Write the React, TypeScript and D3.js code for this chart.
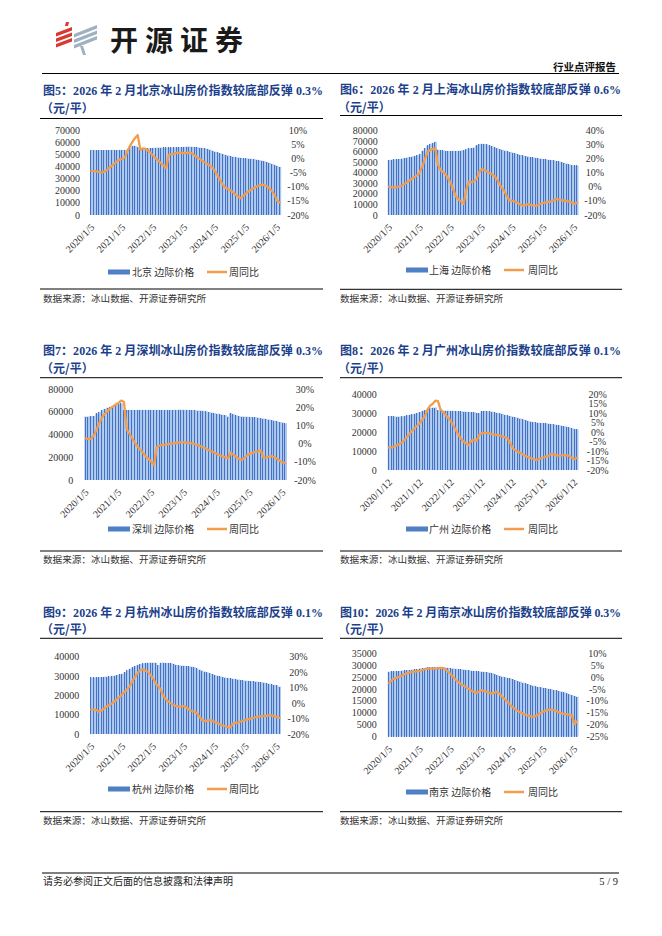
import { useEffect, useRef } from "react";
import * as d3 from "d3";

// monthly categories, 2020-01 .. 2026-02
const MONTHS = d3.timeMonths(new Date(2020, 0, 1), new Date(2026, 2, 1));
const YEAR_TICKS = [0, 12, 24, 36, 48, 60, 72];
const TICKS_5 = ["2020/1/5", "2021/1/5", "2022/1/5", "2023/1/5", "2024/1/5", "2025/1/5", "2026/1/5"];
const TICKS_12 = ["2020/1/12", "2021/1/12", "2022/1/12", "2023/1/12", "2024/1/12", "2025/1/12", "2026/1/12"];

const BJ_PRICE = [
  53500, 53500, 53500, 53500, 53500, 53500, 53500, 53500, 53500, 53500,
  53500, 53500, 53500, 53500, 54000, 56000, 57000, 57000, 56000, 55000,
  54500, 54800, 55000, 55200, 55300, 55400, 55500, 55500, 55600, 55600,
  55700, 55700, 55800, 55800, 55900, 56000, 56100, 56300, 56300, 56200,
  56000, 55800, 55500, 55200, 55000, 54400, 53800, 53000, 52200, 51500,
  50800, 50200, 49500, 49000, 48500, 48000, 47600, 47300, 47000, 46800,
  46600, 46500, 46300, 46000, 45600, 45200, 44800, 44300, 43700, 43000,
  42200, 41400, 40500, 39600,
];
const BJ_YOY = [
  -4.4, -4.5, -4.6, -4.8, -5.0, -4.7, -4.2, -3.4, -2.6, -1.8,
  -1.1, -0.4, -0.2, 0.2, 2.6, 4.4, 5.9, 7.2, 8.2, 3.0,
  3.5, 3.3, 2.7, 1.9, 0.9, 0.0, -0.8, -1.8, -2.6, -3.5,
  1.2, 1.4, 1.6, 1.9, 2.0, 1.9, 1.8, 1.9, 2.0, 1.8,
  1.0, 0.4, -0.2, -0.9, -1.5, -2.0, -2.6, -3.4, -4.6, -6.2,
  -7.8, -9.4, -10.4, -10.9, -11.3, -12.0, -12.9, -13.6, -14.1, -13.2,
  -12.4, -11.6, -11.0, -10.5, -10.0, -9.6, -9.4, -9.4, -9.8, -10.6,
  -11.6, -12.9, -15.0, -15.6,
];

const SH_PRICE = [
  52200, 52500, 52800, 53000, 53300, 53500, 54000, 54500, 55000, 55500,
  56000, 56800, 58000, 61000, 63500, 66000, 67500, 68500, 69500, 62000,
  61500, 61300, 61000, 60800, 60800, 60800, 60800, 61000, 61200, 61500,
  62500, 63300, 63600, 64000, 66000, 67400, 67600, 67500, 67000, 66200,
  65300, 64300, 63300, 62600, 61800, 61100, 60500, 59800, 59200, 58500,
  57700, 57000, 56500, 56000, 55500, 55000, 54600, 54200, 53800, 53500,
  53200, 52800, 52400, 52200, 51800, 51300, 50800, 50300, 49600, 48800,
  48000, 47300, 47000, 47000,
];
const SH_YOY = [
  0.2, -0.2, -0.5, -0.2, 0.3, 0.8, 2.0, 3.3, 4.5, 6.0,
  7.2, 8.3, 10.5, 15.0, 20.0, 25.0, 26.3, 27.0, 27.5, 16.0,
  12.0, 10.5, 9.0, 6.0, 2.8, -2.0, -6.9, -9.0, -10.4, -12.1,
  -2.1, 3.8, 3.3, 4.0, 5.5, 10.5, 12.6, 12.0, 11.0, 10.0,
  9.0, 7.5, 5.5, 1.5, -1.0, -3.8, -7.5, -9.8, -10.0, -10.4,
  -11.5, -12.5, -13.5, -13.0, -12.3, -12.8, -13.3, -13.5, -12.8, -12.0,
  -11.3, -11.1, -10.6, -10.4, -9.5, -8.5, -9.0, -9.5, -9.8, -10.2,
  -10.4, -11.2, -12.1, -11.1,
];

const SZ_PRICE = [
  55900, 56000, 56300, 56500, 58800, 60000, 61800, 62800, 63800, 64500,
  65200, 66200, 67000, 67600, 62000, 61800, 61800, 61800, 61800, 61800,
  61800, 61800, 61800, 61800, 61800, 61800, 61800, 61800, 61800, 61800,
  61800, 61800, 61900, 61900, 62000, 62000, 61900, 61800, 61800, 61700,
  61500, 61300, 61200, 61000, 60500, 60000, 59500, 59000, 58500, 58000,
  57500, 57200, 56000, 58800, 58000, 57000, 56500, 56000, 55900, 55800,
  55700, 55500, 55300, 55000, 54500, 54200, 53800, 53300, 52900, 52400,
  51800, 51200, 50700, 50000,
];
const SZ_YOY = [
  2.9, 2.6, 2.8, 4.5, 8.0, 11.5, 14.5, 16.5, 18.0, 19.5,
  20.6, 21.6, 22.5, 23.8, 23.0, 8.0, 5.5, 3.0, 0.5, -1.5,
  -3.5, -5.0, -7.0, -8.5, -10.0, -11.8, -1.8, -1.0, -0.7, -0.5,
  -0.3, 0.0, 0.2, 0.4, 0.6, 0.7, 0.8, 0.6, 0.4, 0.2,
  -0.3, -0.8, -1.3, -2.0, -2.8, -3.5, -4.2, -5.0, -5.7, -6.4,
  -7.0, -7.5, -8.1, -4.8, -6.0, -7.2, -8.3, -9.0, -7.8, -6.6,
  -5.5, -5.0, -4.5, -4.2, -3.6, -7.7, -7.7, -7.2, -6.8, -7.5,
  -8.3, -9.5, -10.3, -10.8,
];

const GZ_PRICE = [
  28500, 28400, 28300, 28200, 28200, 28300, 28600, 28900, 29200, 29500,
  29800, 30200, 30600, 31200, 31700, 32300, 32800, 33000, 33000, 31700,
  31500, 31400, 31400, 31300, 31300, 31200, 31200, 31100, 31000, 30900,
  30800, 30700, 30600, 30500, 30200, 30000, 31200, 31200, 31100, 31000,
  30800, 30500, 30200, 29900, 29600, 29200, 28800, 28500, 28200, 27900,
  27600, 27200, 26800, 26400, 26000, 25600, 25300, 25100, 25000, 24900,
  24800, 24700, 24500, 24300, 24100, 23900, 23700, 23400, 23200, 22900,
  22500, 22100, 21700, 21500,
];
const GZ_YOY = [
  -8.2, -8.0, -7.7, -7.0, -6.2, -5.5, -4.2, -2.5, -1.0, 0.8,
  2.2, 3.5, 4.8, 6.8, 8.5, 12.0, 14.0, 15.0, 16.6, 16.4,
  12.0, 10.6, 9.0, 7.6, 5.8, 3.5, 1.0, -1.5, -3.5, -5.0,
  -6.0, -6.8, -4.5, -4.2, -4.7, -1.5, -0.6, -0.4, -0.3, -0.6,
  -1.0, -1.3, -1.5, -1.8, -2.2, -2.6, -3.3, -5.5, -8.5, -9.5,
  -10.3, -11.0, -11.8, -12.6, -13.2, -13.6, -14.2, -14.7, -14.4, -13.8,
  -13.4, -12.9, -12.5, -11.5, -11.8, -12.2, -12.4, -12.3, -12.1, -12.3,
  -12.6, -13.5, -14.2, -13.5,
];

const HZ_PRICE = [
  29300, 29300, 29300, 29400, 29500, 29600, 29700, 29800, 30000, 30200,
  30500, 30900, 31200, 32000, 33000, 33800, 34500, 35200, 35800, 36200,
  36500, 36800, 36900, 36900, 36900, 36900, 35700, 36900, 36900, 36800,
  36700, 36600, 36300, 35700, 35500, 35400, 35300, 35200, 35000, 34800,
  34500, 34000, 33300, 32800, 32300, 31900, 31500, 31000, 30500, 30100,
  29800, 29500, 29200, 29000, 28800, 28600, 28400, 28200, 28000, 27700,
  27600, 27500, 27400, 27300, 27100, 27000, 26800, 26600, 26300, 26000,
  25700, 25400, 25200, 24500,
];
const HZ_YOY = [
  -4.1, -4.2, -4.5, -5.6, -4.8, -3.4, -2.2, -1.3, -0.2, 1.0,
  2.5, 4.0, 5.5, 7.3, 9.0, 11.0, 14.5, 17.0, 19.5, 21.3,
  21.8, 21.0, 20.3, 18.0, 16.0, 12.5, 11.0, 8.5, 4.5, 2.5,
  0.8, -0.2, -1.2, -2.0, -2.4, -2.2, -1.9, -2.8, -4.5, -5.2,
  -5.6, -6.5, -9.0, -11.0, -11.5, -11.6, -11.0, -11.5, -12.3, -13.1,
  -13.8, -14.5, -15.0, -15.5, -15.7, -13.1, -12.8, -12.5, -12.0, -11.4,
  -10.9, -10.4, -9.9, -9.5, -9.0, -8.7, -8.5, -8.4, -8.2, -8.0,
  -8.0, -8.6, -9.1, -9.5,
];

const NJ_PRICE = [
  27300, 27400, 27500, 27500, 27600, 27700, 27800, 27900, 28000, 28100,
  28300, 28400, 28600, 28700, 28900, 29100, 29100, 29100, 29100, 29100,
  29100, 29100, 29000, 28900, 28700, 28600, 28500, 28400, 28300, 28200,
  28000, 27900, 27700, 27600, 27500, 27400, 27300, 27200, 27100, 26900,
  26700, 26300, 25900, 25500, 25200, 24900, 24700, 24500, 24200, 23800,
  23400, 23100, 22700, 22400, 22100, 21700, 21400, 21100, 20900, 20700,
  20500, 20300, 20100, 19900, 19600, 19400, 19200, 18900, 18600, 18200,
  17800, 17500, 17100, 16800,
];
const NJ_YOY = [
  -2.4, -1.5, -0.6, -0.2, 0.1, 0.6, 1.2, 1.6, 2.0, 2.2,
  2.3, 2.4, 2.5, 3.0, 3.4, 3.6, 3.6, 3.6, 3.6, 3.7,
  3.9, 3.8, 3.2, 2.2, 1.2, 0.0, -1.2, -2.2, -3.0, -3.6,
  -4.3, -5.0, -5.7, -6.2, -6.6, -6.0, -5.5, -5.8, -6.2, -6.6,
  -6.9, -6.5, -6.2, -7.0, -8.3, -9.3, -10.4, -11.5, -12.6, -13.4,
  -14.2, -14.8, -15.3, -15.7, -16.2, -16.5, -16.7, -16.3, -15.6, -15.0,
  -14.4, -13.9, -13.7, -13.6, -13.9, -14.2, -14.8, -15.3, -15.4, -15.5,
  -15.8, -16.0, -19.6, -18.5,
];

const SOURCE = "数据来源：冰山数据、开源证券研究所";
const LINE_LABEL = "周同比";

const SERIF = "'Liberation Serif', 'Times New Roman', serif";
const CJK = "'Noto Sans CJK SC', sans-serif";
const MIX = "'Liberation Serif', 'Noto Sans CJK SC', serif";

const COLORS = {
  bar: "#4472C4",
  barLight: "#AAC6EC",
  swatch: "#4F7FC4",
  line: "#F29C4C",
  title: "#1B3F8B",
  text: "#333333",
  rule: "#000000",
};

type Col = {
  textX: number;
  ruleX0: number;
  ruleX1: number;
  titleW: number;
  legBar: number;
  legBarText: number;
  legLine: number;
  legLineText: number;
};

const LEFT_COL: Col = { textX: 43, ruleX0: 40, ruleX1: 323, titleW: 280, legBar: 108, legBarText: 132, legLine: 207, legLineText: 229 };
const RIGHT_COL: Col = { textX: 340, ruleX0: 340, ruleX1: 622, titleW: 281, legBar: 406, legBarText: 429, legLine: 504, legLineText: 528 };

type Panel = {
  col: Col;
  title: string;
  legend: string;
  price: number[];
  yoy: number[];
  ticks: string[];
  leftMax: number;
  leftStep: number;
  rightMin: number;
  rightMax: number;
  rightStep: number;
  box: { x0: number; x1: number; y0: number; y1: number };
  leftLabelX: number;
  rightLabelX: number;
  titleY: number;
  unitY: number;
  ruleY: number;
  legendY: number;
  srcRuleY: number;
  srcY: number;
};

const PANELS: Panel[] = [
  {
    col: LEFT_COL, title: "图5：2026 年 2 月北京冰山房价指数较底部反弹 0.3%", legend: "北京 边际价格",
    price: BJ_PRICE, yoy: BJ_YOY, ticks: TICKS_5,
    leftMax: 70000, leftStep: 10000, rightMin: -20, rightMax: 10, rightStep: 5,
    box: { x0: 90, x1: 281, y0: 130, y1: 215 }, leftLabelX: 80, rightLabelX: 298,
    titleY: 94.5, unitY: 112.5, ruleY: 118.5, legendY: 272, srcRuleY: 289, srcY: 301.5,
  },
  {
    col: RIGHT_COL, title: "图6：2026 年 2 月上海冰山房价指数较底部反弹 0.6%", legend: "上海 边际价格",
    price: SH_PRICE, yoy: SH_YOY, ticks: TICKS_5,
    leftMax: 80000, leftStep: 10000, rightMin: -20, rightMax: 40, rightStep: 10,
    box: { x0: 387.7, x1: 578.3, y0: 130.7, y1: 215 }, leftLabelX: 377.7, rightLabelX: 595,
    titleY: 94, unitY: 112, ruleY: 115.5, legendY: 270, srcRuleY: 289.3, srcY: 301.5,
  },
  {
    col: LEFT_COL, title: "图7：2026 年 2 月深圳冰山房价指数较底部反弹 0.3%", legend: "深圳 边际价格",
    price: SZ_PRICE, yoy: SZ_YOY, ticks: TICKS_5,
    leftMax: 80000, leftStep: 20000, rightMin: -20, rightMax: 30, rightStep: 10,
    box: { x0: 84.3, x1: 286.7, y0: 389.3, y1: 480 }, leftLabelX: 73.3, rightLabelX: 305,
    titleY: 354.5, unitY: 372.5, ruleY: 377.7, legendY: 529, srcRuleY: 551, srcY: 562.5,
  },
  {
    col: RIGHT_COL, title: "图8：2026 年 2 月广州冰山房价指数较底部反弹 0.1%", legend: "广州 边际价格",
    price: GZ_PRICE, yoy: GZ_YOY, ticks: TICKS_12,
    leftMax: 40000, leftStep: 10000, rightMin: -20, rightMax: 20, rightStep: 5,
    box: { x0: 387.7, x1: 578.3, y0: 394.3, y1: 470 }, leftLabelX: 376.7, rightLabelX: 597.7,
    titleY: 354.5, unitY: 372.5, ruleY: 377.7, legendY: 529, srcRuleY: 551, srcY: 562.5,
  },
  {
    col: LEFT_COL, title: "图9：2026 年 2 月杭州冰山房价指数较底部反弹 0.1%", legend: "杭州 边际价格",
    price: HZ_PRICE, yoy: HZ_YOY, ticks: TICKS_5,
    leftMax: 40000, leftStep: 10000, rightMin: -20, rightMax: 30, rightStep: 10,
    box: { x0: 90, x1: 280.7, y0: 656.7, y1: 734 }, leftLabelX: 79.3, rightLabelX: 298.3,
    titleY: 617, unitY: 633.5, ruleY: 638.3, legendY: 789, srcRuleY: 811.7, srcY: 823.5,
  },
  {
    col: RIGHT_COL, title: "图10：2026 年 2 月南京冰山房价指数较底部反弹 0.3%", legend: "南京 边际价格",
    price: NJ_PRICE, yoy: NJ_YOY, ticks: TICKS_5,
    leftMax: 35000, leftStep: 5000, rightMin: -25, rightMax: 10, rightStep: 5,
    box: { x0: 387.7, x1: 578.3, y0: 653.3, y1: 736.7 }, leftLabelX: 376.7, rightLabelX: 597.3,
    titleY: 617, unitY: 633.5, ruleY: 638.3, legendY: 792, srcRuleY: 811.7, srcY: 823.5,
  },
];

function drawPanel(svg: d3.Selection<SVGSVGElement, unknown, null, undefined>, p: Panel) {
  const c = p.col;
  const g = svg.append("g").attr("class", "panel");

  // title block
  g.append("text")
    .attr("x", c.textX)
    .attr("y", p.titleY)
    .attr("textLength", c.titleW)
    .attr("lengthAdjust", "spacing")
    .attr("font-family", MIX)
    .attr("font-weight", 700)
    .attr("font-size", 12)
    .attr("fill", COLORS.title)
    .text(p.title);
  g.append("text")
    .attr("x", c.textX - 2)
    .attr("y", p.unitY)
    .attr("font-family", CJK)
    .attr("font-weight", 700)
    .attr("font-size", 12)
    .attr("fill", COLORS.title)
    .text("（元/平）");
  g.append("line")
    .attr("x1", c.ruleX0)
    .attr("x2", c.ruleX1)
    .attr("y1", p.ruleY)
    .attr("y2", p.ruleY)
    .attr("stroke", COLORS.rule)
    .attr("stroke-width", 1);

  // scales
  const n = MONTHS.length;
  const x = d3.scaleBand<number>().domain(d3.range(n)).range([p.box.x0, p.box.x1]);
  const bw = x.bandwidth();
  const yL = d3.scaleLinear().domain([0, p.leftMax]).range([p.box.y1, p.box.y0]);
  const yR = d3.scaleLinear().domain([p.rightMin, p.rightMax]).range([p.box.y1, p.box.y0]);

  // bars: light body + dark stripe (dense weekly bars look striped)
  g.append("g")
    .selectAll("rect")
    .data(p.price)
    .join("rect")
    .attr("x", (_, i) => x(i)!)
    .attr("width", bw + 0.2)
    .attr("y", (d) => yL(d))
    .attr("height", (d) => yL(0) - yL(d))
    .attr("fill", COLORS.barLight);
  g.append("g")
    .attr("shape-rendering", "crispEdges")
    .selectAll("rect")
    .data(p.price)
    .join("rect")
    .attr("x", (_, i) => x(i)! + 0.4)
    .attr("width", 1)
    .attr("y", (d) => yL(d))
    .attr("height", (d) => yL(0) - yL(d))
    .attr("fill", COLORS.bar);

  // yoy line
  const line = d3
    .line<number>()
    .x((_, i) => x(i)! + bw / 2)
    .y((d) => yR(d));
  g.append("path")
    .datum(p.yoy)
    .attr("d", line)
    .attr("fill", "none")
    .attr("stroke", COLORS.line)
    .attr("stroke-width", 2.3)
    .attr("stroke-linejoin", "round")
    .attr("stroke-linecap", "round");

  // left axis labels
  const lt = d3.range(0, p.leftMax + 1, p.leftStep);
  g.append("g")
    .selectAll("text")
    .data(lt)
    .join("text")
    .attr("x", p.leftLabelX)
    .attr("y", (d) => yL(d))
    .attr("dy", "0.35em")
    .attr("text-anchor", "end")
    .attr("font-family", SERIF)
    .attr("font-size", 10)
    .attr("fill", COLORS.text)
    .text((d) => String(d));

  // right axis labels
  const rt = d3.range(p.rightMin, p.rightMax + 0.01, p.rightStep);
  g.append("g")
    .selectAll("text")
    .data(rt)
    .join("text")
    .attr("x", p.rightLabelX)
    .attr("y", (d) => yR(d))
    .attr("dy", "0.35em")
    .attr("text-anchor", "middle")
    .attr("font-family", SERIF)
    .attr("font-size", 10)
    .attr("fill", COLORS.text)
    .text((d) => `${d}%`);

  // x labels, rotated
  g.append("g")
    .selectAll("text")
    .data(YEAR_TICKS)
    .join("text")
    .attr("transform", (d) => `translate(${x(d)! + 5},${p.box.y1 + 13}) rotate(-45)`)
    .attr("text-anchor", "end")
    .attr("font-family", SERIF)
    .attr("font-size", 10)
    .attr("fill", COLORS.text)
    .text((_, i) => p.ticks[i]);

  // legend
  const ly = p.legendY;
  g.append("rect")
    .attr("x", c.legBar)
    .attr("y", ly - 2.5)
    .attr("width", 22)
    .attr("height", 5)
    .attr("fill", COLORS.swatch);
  g.append("text")
    .attr("x", c.legBarText)
    .attr("y", ly)
    .attr("dy", "0.35em")
    .attr("font-family", CJK)
    .attr("font-size", 10)
    .attr("fill", COLORS.text)
    .text(p.legend);
  g.append("line")
    .attr("x1", c.legLine)
    .attr("x2", c.legLine + 20)
    .attr("y1", ly)
    .attr("y2", ly)
    .attr("stroke", COLORS.line)
    .attr("stroke-width", 2.5);
  g.append("text")
    .attr("x", c.legLineText)
    .attr("y", ly)
    .attr("dy", "0.35em")
    .attr("font-family", CJK)
    .attr("font-size", 10)
    .attr("fill", COLORS.text)
    .text(LINE_LABEL);

  // source
  g.append("line")
    .attr("x1", c.ruleX0)
    .attr("x2", c.ruleX1)
    .attr("y1", p.srcRuleY)
    .attr("y2", p.srcRuleY)
    .attr("stroke", COLORS.rule)
    .attr("stroke-width", 1);
  g.append("text")
    .attr("x", c.textX)
    .attr("y", p.srcY)
    .attr("font-family", CJK)
    .attr("font-size", 9.6)
    .attr("fill", COLORS.text)
    .text(SOURCE);
}

export default function App() {
  const ref = useRef<SVGSVGElement>(null);

  useEffect(() => {
    if (!ref.current) return;
    const svg = d3.select(ref.current);
    svg.selectAll("g.panel").remove();
    PANELS.forEach((p) => drawPanel(svg, p));
  }, []);

  const red = "#D9382E";
  const grey = "#9FB1C0";

  return (
    <svg
      ref={ref}
      width={662}
      height={936}
      style={{ position: "absolute", left: 0, top: 0, background: "#fff" }}
    >
      {/* logo */}
      <g>
        <polygon points="66,22 69,22 68,26 65,26" fill={red} />
        {[0, 1, 2].map((k) => (
          <polygon
            key={"r" + k}
            points={`56,${33 + k * 5.5} 72,${27 + k * 5.5} 72,${30.5 + k * 5.5} 56,${36.5 + k * 5.5}`}
            fill={red}
          />
        ))}
        {[0, 1, 2].map((k) => (
          <polygon
            key={"g" + k}
            points={`74,${34 + k * 5.5} 97,${25 + k * 5.5} 97,${28.5 + k * 5.5} 74,${37.5 + k * 5.5}`}
            fill={grey}
          />
        ))}
        <polygon points="80,46 83,46 86,55 83,55" fill={grey} />
        <text
          x={110}
          y={50.5}
          textLength={133}
          lengthAdjust="spacing"
          fontFamily={CJK}
          fontWeight={700}
          fontSize={28}
          fill="#1a1a1a"
        >
          开源证券
        </text>
      </g>
      <text x={616} y={71} textAnchor="end" fontFamily={CJK} fontWeight={700} fontSize={10.5} fill="#111">
        行业点评报告
      </text>
      <line x1={42} x2={619} y1={73.5} y2={73.5} stroke="#000" strokeWidth={1.2} />

      {/* footer */}
      <line x1={42} x2={619} y1={873} y2={873} stroke="#000" strokeWidth={1.2} />
      <text x={43} y={885} fontFamily={CJK} fontSize={10} fill="#222">
        请务必参阅正文后面的信息披露和法律声明
      </text>
      <text x={618} y={885} textAnchor="end" fontFamily={SERIF} fontSize={10.5} fill="#222">
        5 / 9
      </text>
    </svg>
  );
}
